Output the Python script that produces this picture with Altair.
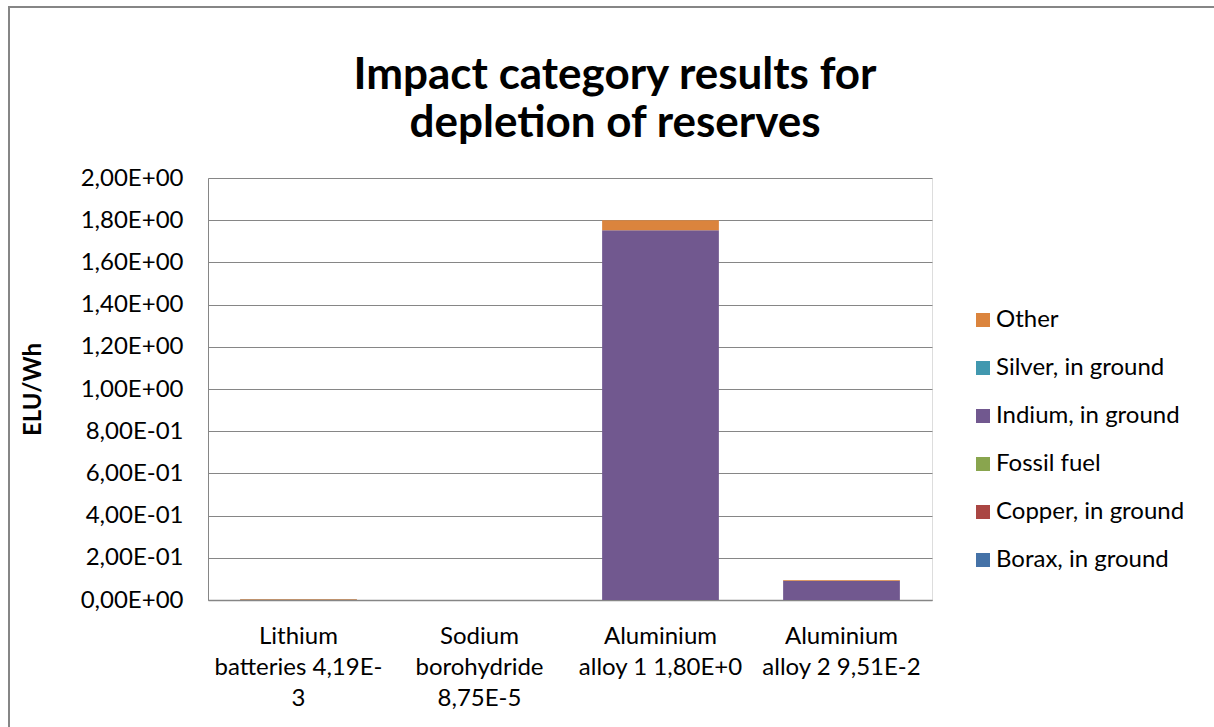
import json

import altair as alt
import pandas as pd

# Products compared (x categories) and their wrapped axis labels
categories = [
    "Lithium batteries 4,19E-3",
    "Sodium borohydride 8,75E-5",
    "Aluminium alloy 1 1,80E+0",
    "Aluminium alloy 2 9,51E-2",
]
category_label_lines = [
    ["Lithium", "batteries 4,19E-", "3"],
    ["Sodium", "borohydride", "8,75E-5"],
    ["Aluminium", "alloy 1 1,80E+0"],
    ["Aluminium", "alloy 2 9,51E-2"],
]

# Contributions per resource (ELU/Wh), stacked bottom to top in this order
borax = [0.0, 0.00006, 0.0, 0.0]
copper = [0.0022, 0.0, 0.0, 0.0004]
fossil_fuel = [0.0012, 0.0000275, 0.0, 0.0]
indium = [0.0, 0.0, 1.752, 0.0911]
silver = [0.0, 0.0, 0.0, 0.0]
other = [0.00079, 0.0, 0.048, 0.0036]

series_names = [
    "Borax, in ground",
    "Copper, in ground",
    "Fossil fuel",
    "Indium, in ground",
    "Silver, in ground",
    "Other",
]
series_values = [borax, copper, fossil_fuel, indium, silver, other]
series_colors = ["#4572A7", "#AA4643", "#89A54E", "#71588F", "#4198AF", "#DB843D"]

# Y axis ticks and their labels
y_tick_values = [0.0, 0.2, 0.4, 0.6, 0.8, 1.0, 1.2, 1.4, 1.6, 1.8, 2.0]
y_tick_labels = [
    "0,00E+00", "2,00E-01", "4,00E-01", "6,00E-01", "8,00E-01", "1,00E+00",
    "1,20E+00", "1,40E+00", "1,60E+00", "1,80E+00", "2,00E+00",
]

rows = []
for order_idx, (name, vals) in enumerate(zip(series_names, series_values)):
    for cat, v in zip(categories, vals):
        rows.append({"category": cat, "resource": name, "value": v, "stack": order_idx})
df = pd.DataFrame(rows)

x_label_expr = (
    json.dumps(category_label_lines)
    + "[indexof(" + json.dumps(categories) + ", datum.label)]"
)
y_label_expr = json.dumps(y_tick_labels) + "[round(datum.value * 5)]"

FONT = "Lato"
GREY = "#868686"
LABEL_SIZE = 24

bars = alt.Chart(df).mark_bar().encode(
    x=alt.X(
        "category:N",
        sort=categories,
        scale=alt.Scale(paddingInner=0.355, paddingOuter=0.1775),
        axis=alt.Axis(
            title=None,
            labelExpr=x_label_expr,
            labelAngle=0,
            labelFont=FONT,
            labelFontSize=LABEL_SIZE,
            labelLineHeight=31,
            labelPadding=24,
            labelBaseline="top",
            labelLimit=400,
            labelColor="black",
            ticks=False,
            domainColor=GREY,
            domainWidth=1.5,
        ),
    ),
    y=alt.Y(
        "value:Q",
        stack="zero",
        scale=alt.Scale(domain=[0, 2], nice=False),
        axis=alt.Axis(
            values=y_tick_values,
            labelExpr=y_label_expr,
            labelFont=FONT,
            labelFontSize=LABEL_SIZE,
            labelPadding=25,
            labelColor="black",
            ticks=False,
            domainColor=GREY,
            gridColor=GREY,
            gridWidth=1,
            title="ELU/Wh",
            titleFont=FONT,
            titleFontSize=LABEL_SIZE,
            titleFontWeight="bold",
            titleColor="black",
            titleAngle=-90,
            titleAlign="center",
            titleBaseline="middle",
            titleX=-175,
            titleY=211,
        ),
    ),
    color=alt.Color(
        "resource:N",
        scale=alt.Scale(domain=series_names[::-1], range=series_colors[::-1]),
        legend=alt.Legend(
            title=None,
            orient="none",
            legendX=763,
            legendY=130,
            symbolType="square",
            symbolSize=196,
            symbolStrokeWidth=0,
            labelFont=FONT,
            labelFontSize=LABEL_SIZE,
            labelColor="black",
            labelLimit=400,
            labelOffset=1,
            rowPadding=24,
            padding=0,
        ),
    ),
    order=alt.Order("stack:Q"),
)

# Outer chart frame
frame = alt.Chart(pd.DataFrame({"k": [0]})).mark_rect(
    fill="transparent", stroke=GREY, strokeWidth=2
).encode(
    x=alt.value(-199), x2=alt.value(1100), y=alt.value(-171), y2=alt.value(700)
)

chart = alt.layer(frame, bars).properties(
    width=724,
    height=422,
    autosize=alt.AutoSizeParams(type="none"),
    padding={"left": 208, "top": 178, "right": 282, "bottom": 127},
    title=alt.TitleParams(
        ["Impact category results for", "depletion of reserves"],
        font=FONT,
        fontSize=44,
        fontWeight="bold",
        color="black",
        anchor="middle",
        frame="group",
        dx=45,
        offset=-140,
        lineHeight=48,
    ),
).configure_view(stroke=None).configure(font=FONT, background="white")

chart.save("out.html", embed_options={"renderer": "svg", "actions": False})
